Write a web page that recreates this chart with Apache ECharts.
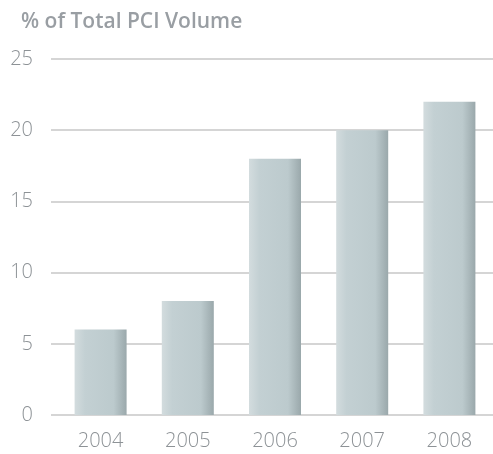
<!DOCTYPE html>
<html><head><meta charset="utf-8">
<script src="https://cdn.jsdelivr.net/npm/echarts@6/dist/echarts.min.js"></script>
<style>html,body{margin:0;padding:0;background:#fff}#c{width:493px;height:454px}</style>
</head><body><div id="c"></div>
<script>
const categories = ['2004','2005','2006','2007','2008'];
const values = [6, 8, 18, 20, 22];
const yTicks = [0, 5, 10, 15, 20, 25];
const title = '% of Total PCI Volume';

const chart = echarts.init(document.getElementById('c'));
const barColor = new echarts.graphic.LinearGradient(0,0,1,0,[
  {offset:0, color:'#d3dcde'},
  {offset:0.2, color:'#c3d0d3'},
  {offset:0.75, color:'#bccacd'},
  {offset:1, color:'#9aa8ab'}
]);
chart.setOption({
  animation:false,
  title:{text:title,left:16,top:7,textStyle:{fontFamily:'Open Sans',fontWeight:600,fontSize:21,color:'#999ea3'}},
  grid:[
    {left:51,right:0,top:59,bottom:39,containLabel:false},
    {left:57,right:-4,top:59,bottom:39,containLabel:false}
  ],
  xAxis:[
    {gridIndex:0,type:'category',data:categories,show:false},
    {gridIndex:1,type:'category',data:categories,
     axisLine:{show:false},axisTick:{show:false},
     axisLabel:{margin:16,fontFamily:'Open Sans',fontWeight:300,fontSize:20,color:'#8d9296'}}
  ],
  yAxis:[
    {gridIndex:0,type:'value',min:yTicks[0],max:yTicks[yTicks.length-1],interval:5,
     axisLine:{show:false},axisTick:{show:false},z:0,
     splitLine:{lineStyle:{color:'#d5d5d5',width:2}},
     axisLabel:{margin:18,fontFamily:'Open Sans',fontWeight:300,fontSize:20,color:'#8d9296',align:'right'}},
    {gridIndex:1,type:'value',min:yTicks[0],max:yTicks[yTicks.length-1],interval:5,show:false,splitLine:{show:false}}
  ],
  series:[{
    type:'bar',xAxisIndex:1,yAxisIndex:1,data:values,barWidth:52,z:10,
    itemStyle:{color:barColor}
  }]
});
</script></body></html>
